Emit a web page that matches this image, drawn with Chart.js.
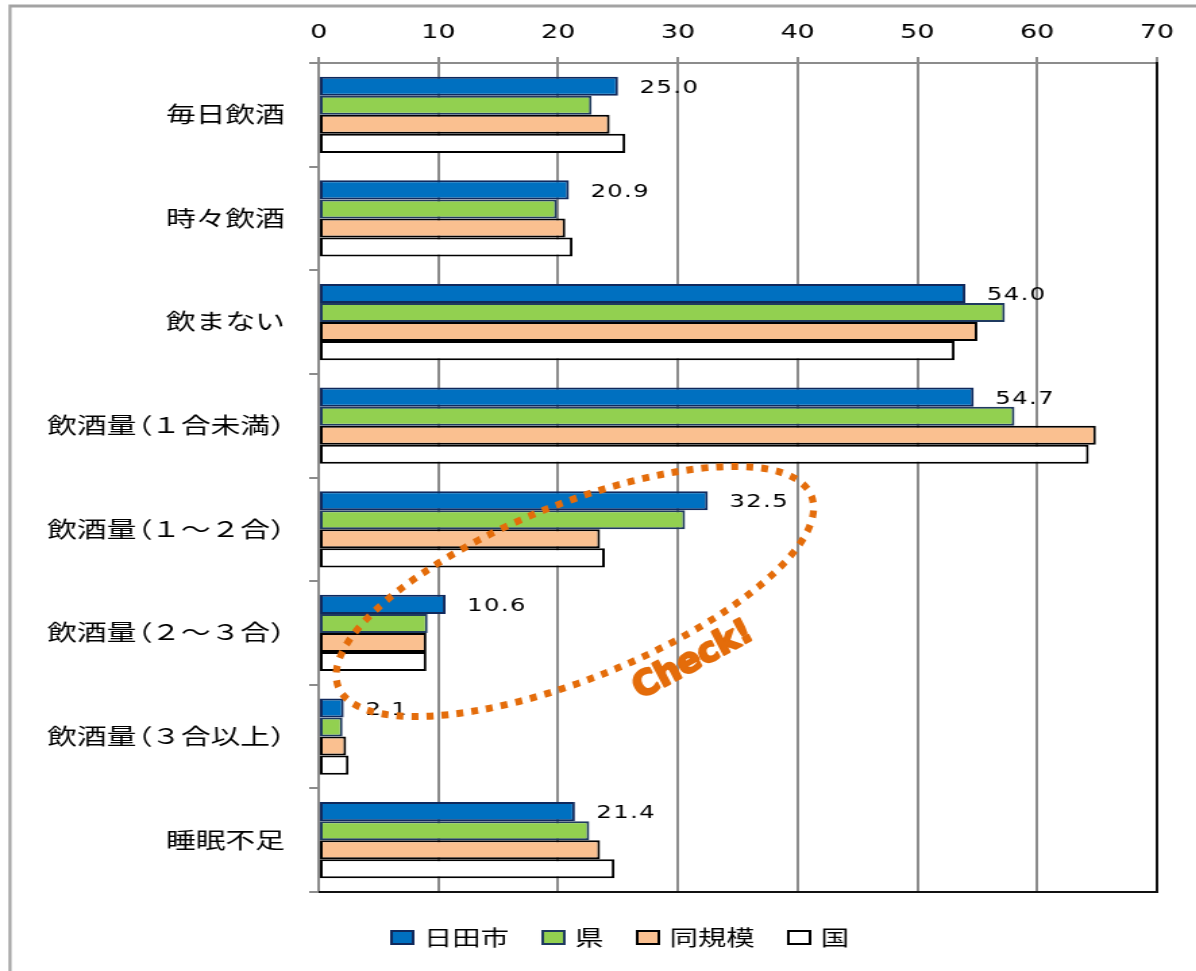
<!DOCTYPE html>
<html lang="ja">
<head>
<meta charset="utf-8">
<title>飲酒・睡眠の状況</title>
<script src="https://cdn.jsdelivr.net/npm/chart.js@4.4.0/dist/chart.umd.min.js"></script>
<style>
  html, body { margin: 0; padding: 0; background: #fff; overflow: hidden; width: 1196px; height: 971px; }
  /* the drawing is laid out narrow and widened horizontally */
  #wrap { width: 886px; height: 971px; transform: scaleX(1.35); transform-origin: 0 0; }
  canvas { display: block; }
</style>
</head>
<body>
<div id="wrap"><canvas id="c" width="886" height="971" style="width:886px;height:971px"></canvas></div>
<script>
// horizontal stretch applied to the canvas element
const STRETCH = 1196 / 886;

// ---- data ----
const categories = [
  '毎日飲酒',
  '時々飲酒',
  '飲まない',
  '飲酒量（１合未満）',
  '飲酒量（１～２合）',
  '飲酒量（２～３合）',
  '飲酒量（３合以上）',
  '睡眠不足'
];
const seriesNames = ['日田市', '県', '同規模', '国'];
const hitaCity    = [25.0, 20.9, 54.0, 54.7, 32.5, 10.6, 2.1, 21.4];
const prefecture  = [22.8, 19.9, 57.3, 58.1, 30.6,  9.1, 2.0, 22.6];
const similarSize = [24.3, 20.6, 55.0, 64.9, 23.5,  9.0, 2.3, 23.5];
const national    = [25.6, 21.2, 53.1, 64.3, 23.9,  9.0, 2.5, 24.7];
const xTicks = [0, 10, 20, 30, 40, 50, 60, 70];

// highlight around the drinking-amount rows (in axis units)
const highlight = {
  label: 'Check!',
  centerValue: 21.4, centerRow: 4.6,
  halfLengthValue: 21.3, halfWidthRows: 0.84, tilt: -22,
  textValue: 31.3, textRow: 5.27, textTilt: -28
};

const fills   = ['#0070C0', '#92D050', '#FAC090', '#FFFFFF'];
const borders = ['#10295C', '#1F3A5F', '#000000', '#000000'];
const values  = [hitaCity, prefecture, similarSize, national];

const LABEL_FONT = 22;

// ---- plugins ----
const backdrop = {
  id: 'backdrop',
  beforeDraw(chart) {
    const ctx = chart.ctx;
    ctx.save();
    ctx.fillStyle = '#fff';
    ctx.fillRect(0, 0, chart.width, chart.height);
    ctx.scale(1 / STRETCH, 1);
    ctx.strokeStyle = '#a3a3a3';
    ctx.lineWidth = 3;
    ctx.beginPath();
    ctx.moveTo(10, chart.height + 10);
    ctx.lineTo(10, 6);
    ctx.lineTo(chart.width * STRETCH + 10, 6);
    ctx.stroke();
    ctx.restore();
  }
};

// category names, right-aligned, with half-width brackets
const categoryNames = {
  id: 'categoryNames',
  afterDraw(chart) {
    const ctx = chart.ctx;
    const ys = chart.scales.y;
    const right = chart.chartArea.left - 25;
    const em = LABEL_FONT;
    ctx.save();
    ctx.font = LABEL_FONT + 'px "Noto Sans CJK JP"';
    ctx.fillStyle = '#000';
    ctx.textBaseline = 'middle';
    ctx.textAlign = 'left';
    categories.forEach((name, i) => {
      const chars = Array.from(name);
      const adv = chars.map(c => (c === '（' || c === '）') ? em * 0.5 : ctx.measureText(c).width);
      const total = adv.reduce((s, a) => s + a, 0);
      let x = right - total;
      const y = ys.getPixelForValue(i) - 1;
      chars.forEach((c, k) => {
        const shift = c === '（' ? -em * 0.45 : 0;
        ctx.fillText(c, x + shift, y);
        x += adv[k];
      });
    });
    ctx.restore();
  }
};

const plotEdges = {
  id: 'plotEdges',
  afterDatasetsDraw(chart) {
    const { ctx, chartArea: a } = chart;
    ctx.save();
    ctx.strokeStyle = '#111';
    ctx.lineWidth = 2;
    ctx.beginPath();
    ctx.moveTo(a.left, a.bottom);
    ctx.lineTo(a.right, a.bottom);
    ctx.moveTo(a.right, a.top - 1);
    ctx.lineTo(a.right, a.bottom + 1);
    ctx.stroke();
    ctx.restore();
  }
};

const valueLabels = {
  id: 'valueLabels',
  afterDatasetsDraw(chart) {
    const ctx = chart.ctx;
    const meta = chart.getDatasetMeta(0);
    ctx.save();
    ctx.font = '18px "DejaVu Sans"';
    ctx.fillStyle = '#000';
    ctx.textAlign = 'left';
    ctx.textBaseline = 'middle';
    if ('letterSpacing' in ctx) ctx.letterSpacing = '1px';
    meta.data.forEach((bar, i) => {
      ctx.fillText(hitaCity[i].toFixed(1), bar.x + 16, bar.y + 2);
    });
    ctx.restore();
  }
};

const callout = {
  id: 'callout',
  afterDraw(chart) {
    const ctx = chart.ctx;
    const xs = chart.scales.x, ys = chart.scales.y;
    const h = highlight;
    const cx = xs.getPixelForValue(h.centerValue) * STRETCH;
    const cy = ys.getPixelForValue(h.centerRow);
    const ra = (xs.getPixelForValue(h.halfLengthValue) - xs.getPixelForValue(0)) * STRETCH;
    const rb = ys.getPixelForValue(h.halfWidthRows) - ys.getPixelForValue(0);
    ctx.save();
    ctx.scale(1 / STRETCH, 1);
    ctx.save();
    ctx.translate(cx, cy);
    ctx.rotate(h.tilt * Math.PI / 180);
    ctx.beginPath();
    ctx.ellipse(0, 0, ra, rb, 0, 0, Math.PI * 2);
    ctx.setLineDash([7, 8]);
    ctx.lineWidth = 7;
    ctx.strokeStyle = '#E46C0A';
    ctx.stroke();
    ctx.restore();

    const tx = xs.getPixelForValue(h.textValue) * STRETCH;
    const ty = ys.getPixelForValue(h.textRow);
    ctx.translate(tx, ty);
    ctx.rotate(h.textTilt * Math.PI / 180);
    ctx.font = 'bold 34px "DejaVu Sans"';
    ctx.fillStyle = '#E46C0A';
    ctx.strokeStyle = '#E46C0A';
    ctx.lineWidth = 2.5;
    ctx.lineJoin = 'round';
    ctx.textAlign = 'center';
    ctx.textBaseline = 'middle';
    ctx.strokeText(h.label, 0, 0);
    ctx.fillText(h.label, 0, 0);
    ctx.restore();
  }
};

const legendRow = {
  id: 'legendRow',
  afterDraw(chart) {
    const ctx = chart.ctx;
    ctx.save();
    ctx.font = '21px "Noto Sans CJK JP"';
    ctx.textBaseline = 'middle';
    ctx.textAlign = 'left';
    const yMid = 937;
    let x = 290;
    chart.data.datasets.forEach((ds) => {
      ctx.fillStyle = ds.backgroundColor;
      ctx.strokeStyle = ds.borderColor;
      ctx.lineWidth = 2;
      ctx.fillRect(x, yMid - 6, 16, 13);
      ctx.strokeRect(x, yMid - 6, 16, 13);
      ctx.fillStyle = '#000';
      ctx.fillText(ds.label, x + 24, yMid);
      x += 24 + ctx.measureText(ds.label).width + 25;
    });
    ctx.restore();
  }
};

// ---- chart ----
new Chart(document.getElementById('c'), {
  type: 'bar',
  data: {
    labels: categories,
    datasets: seriesNames.map((name, k) => ({
      label: name,
      data: values[k],
      backgroundColor: fills[k],
      borderColor: borders[k],
      borderWidth: 2,
      borderSkipped: false,
      categoryPercentage: 0.735,
      barPercentage: 1.0
    }))
  },
  options: {
    indexAxis: 'y',
    responsive: false,
    maintainAspectRatio: false,
    devicePixelRatio: 1,
    animation: false,
    layout: { padding: { left: 0, right: 29, top: 0, bottom: 79 } },
    plugins: {
      legend: { display: false },
      tooltip: { enabled: false }
    },
    scales: {
      x: {
        position: 'top',
        min: xTicks[0],
        max: xTicks[xTicks.length - 1],
        afterBuildTicks(scale) { scale.ticks = xTicks.map(v => ({ value: v })); },
        afterFit(scale) { scale.height = 63; },
        ticks: {
          color: '#000',
          font: { family: 'DejaVu Sans', size: 20 },
          padding: 12,
          maxRotation: 0
        },
        grid: { color: '#8c8c8c', lineWidth: 2, tickLength: 6, drawOnChartArea: true },
        border: { color: '#8c8c8c', width: 2 }
      },
      y: {
        afterFit(scale) { scale.width = 236; },
        ticks: { display: false },
        grid: { color: '#8c8c8c', lineWidth: 2, tickLength: 7, drawOnChartArea: false, offset: true },
        border: { color: '#8c8c8c', width: 2 }
      }
    }
  },
  plugins: [backdrop, categoryNames, plotEdges, valueLabels, callout, legendRow]
});
</script>
</body>
</html>
